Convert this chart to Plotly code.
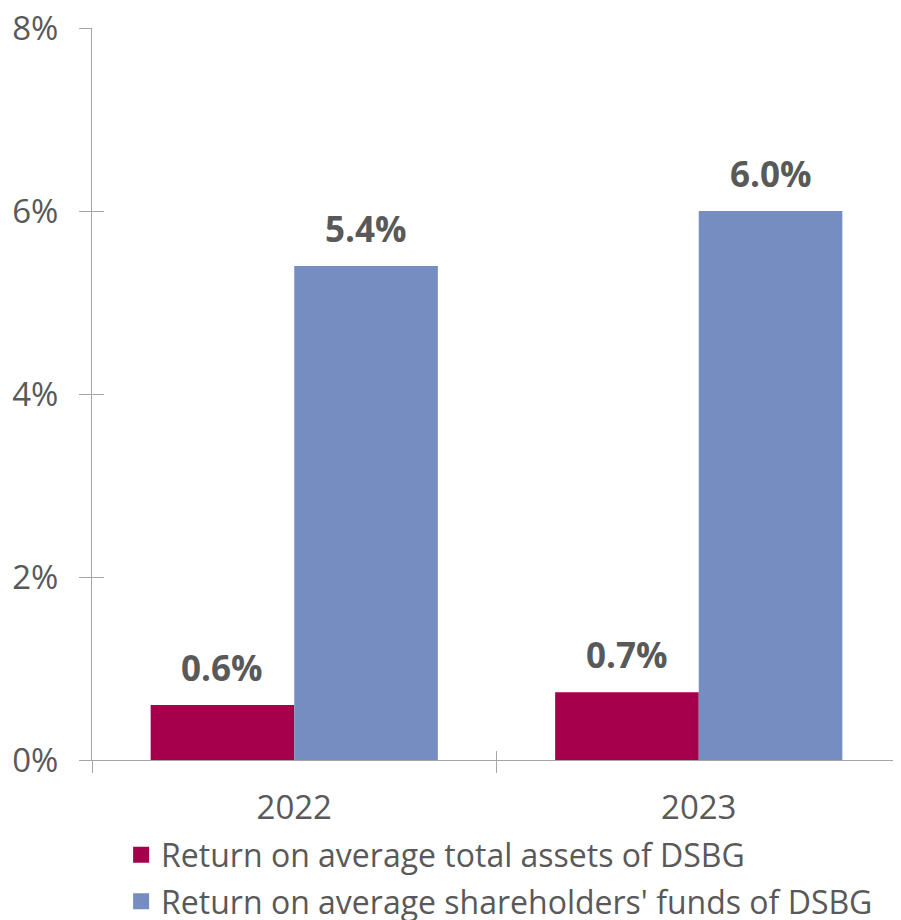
import plotly.graph_objects as go

years = ["2022", "2023"]
roa = [0.60, 0.74]
roe = [5.40, 6.00]
series_names = [
    "Return on average total assets of DSBG",
    "Return on average shareholders' funds of DSBG",
]
series_colors = ["#A6004C", "#768DC1"]
y_ticks = [0, 2, 4, 6, 8]
y_tick_labels = ["0%", "2%", "4%", "6%", "8%"]

grey = "#595959"
axis_grey = "#A6A6A6"
font_family = "Open Sans, sans-serif"
bar_gap = 0.29
plot_w = 809
half_bar = plot_w / len(years) * (1 - bar_gap) / 4  # px from category centre to bar centre

fig = go.Figure()

for i, (name, vals, color) in enumerate(zip(series_names, [roa, roe], series_colors)):
    fig.add_trace(go.Bar(
        x=years,
        y=vals,
        name=name,
        marker=dict(color=color, line=dict(width=0)),
        showlegend=False,
    ))
    # legend entry with a bigger swatch
    fig.add_trace(go.Scatter(
        x=[None], y=[None],
        mode="markers",
        name=name,
        legendgroup=f"g{i}",
        marker=dict(symbol="square", size=16, color=color),
        showlegend=True,
    ))
    shift = -half_bar if i == 0 else half_bar
    for j, v in enumerate(vals):
        # category axis: annotation x is the category index
        fig.add_annotation(
            x=j, y=v, xref="x", yref="y",
            text=f"<b>{v:.1f}%</b>",
            showarrow=False,
            xshift=shift, yshift=12,
            yanchor="bottom",
            font=dict(size=35, color=grey, family=font_family),
        )

# page body has an 8px margin, so the figure is 8px smaller than the window
fig.update_layout(
    width=893,
    height=912,
    margin=dict(l=84, r=0, t=20, b=160, autoexpand=False),
    plot_bgcolor="white",
    paper_bgcolor="white",
    barmode="group",
    bargap=bar_gap,
    bargroupgap=0,
    font=dict(family=font_family, size=32, color=grey),
    legend=dict(
        orientation="v",
        x=0.036, xanchor="left",
        y=-0.092, yanchor="top",
        font=dict(size=32, color=grey),
        tracegroupgap=2,
        itemwidth=30,
    ),
    xaxis=dict(
        type="category",
        range=[-0.5, len(years) - 0.5],
        showline=True,
        linecolor=axis_grey,
        linewidth=1,
        ticks="outside",
        tickson="boundaries",
        ticklen=12,
        tickcolor=axis_grey,
        tickfont=dict(size=33, color=grey),
        ticklabelstandoff=18,
        showgrid=False,
    ),
    xaxis2=dict(
        type="category",
        overlaying="x",
        range=[-0.5, len(years) - 0.5],
        showline=False,
        ticks="inside",
        tickson="boundaries",
        ticklen=9,
        tickcolor=axis_grey,
        showticklabels=False,
        showgrid=False,
    ),
    yaxis=dict(
        range=[0, 8],
        tickvals=y_ticks,
        ticktext=y_tick_labels,
        showline=True,
        linecolor=axis_grey,
        linewidth=1,
        ticks="outside",
        ticklen=12,
        tickcolor=axis_grey,
        tickfont=dict(size=33, color=grey),
        ticklabelstandoff=14,
        ticklabeloverflow="allow",
        showgrid=False,
        zeroline=False,
    ),
    yaxis2=dict(
        overlaying="y",
        range=[0, 8],
        tickvals=y_ticks,
        showline=False,
        ticks="inside",
        ticklen=12,
        tickcolor=axis_grey,
        showticklabels=False,
        showgrid=False,
        zeroline=False,
    ),
)

# invisible trace to bring up the overlay axes carrying the inner ticks
fig.add_trace(go.Scatter(
    x=years, y=[None, None], xaxis="x2", yaxis="y2",
    mode="markers", showlegend=False, hoverinfo="skip",
))

fig.write_html("out.html")
